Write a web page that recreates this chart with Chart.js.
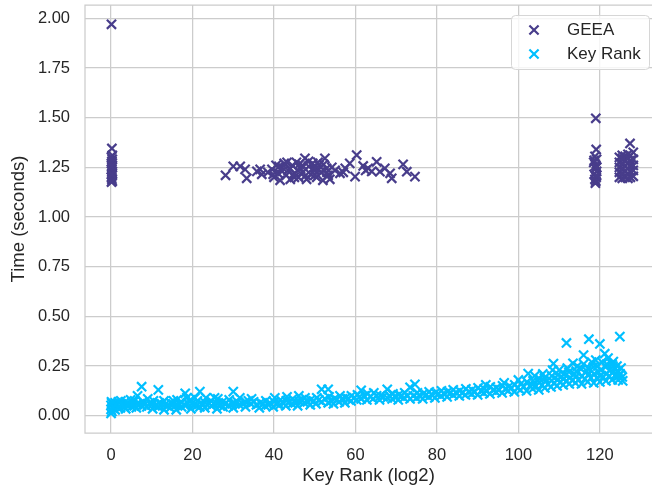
<!DOCTYPE html>
<html>
<head>
<meta charset="utf-8">
<script src="https://cdn.jsdelivr.net/npm/chart.js@4.4.1/dist/chart.umd.min.js"></script>
<style>
  html, body { margin: 0; padding: 0; background: #fff; }
  #wrap { width: 652px; height: 488px; }
</style>
</head>
<body>
<div id="wrap"><canvas id="chart" width="652" height="488"></canvas></div>
<script>
// [key rank (log2), time (s)]
const geeaSamples = [
  [0.1, 1.97], [0.2, 1.345], [0.3, 1.31], [0.1, 1.30], [0.3, 1.29], [0.2, 1.28], [0.1, 1.27],
  [0.3, 1.26], [0.2, 1.25], [0.1, 1.24], [0.3, 1.23], [0.2, 1.22], [0.3, 1.21], [0.1, 1.20],
  [0.2, 1.19], [0.3, 1.18], [0.1, 1.176], [0.2, 1.255], [0.2, 1.215],
  [28.1, 1.21], [30, 1.255], [31.7, 1.255], [32.9, 1.24], [33.3, 1.195], [35.8, 1.23],
  [36.6, 1.24], [37, 1.215], [38.5, 1.225],
  [39.5, 1.24], [40, 1.2], [40.5, 1.26], [41, 1.22], [41.5, 1.185], [42, 1.25], [42.5, 1.27],
  [43, 1.21], [43.5, 1.235], [44, 1.19], [44.5, 1.26], [45, 1.22], [45.5, 1.275], [46, 1.2],
  [46.5, 1.245], [47, 1.225], [47.6, 1.295], [48, 1.19], [48.5, 1.255], [49, 1.215],
  [49.5, 1.27], [50, 1.235], [50.5, 1.2], [51, 1.26], [51.5, 1.225], [52, 1.185],
  [52.5, 1.295], [52.9, 1.245], [53.3, 1.21], [53.7, 1.19], [44, 1.245], [47, 1.26],
  [50, 1.21], [42, 1.23], [45, 1.2], [48.5, 1.28], [51, 1.24],
  [41.2, 1.255], [43.2, 1.275], [45.8, 1.235], [47.8, 1.21], [49.8, 1.25], [52.2, 1.265],
  [54.2, 1.25], [39.8, 1.215], [46.2, 1.265], [50.8, 1.275], [53, 1.225], [44.7, 1.21],
  [55, 1.235], [56.2, 1.22], [57, 1.225], [57.5, 1.245], [58.6, 1.27], [59.9, 1.203], [60.3, 1.312],
  [61.9, 1.257], [62.5, 1.235], [63.1, 1.245], [64, 1.23], [65.2, 1.278], [66, 1.228], [67.2, 1.245],
  [68.5, 1.22], [68.9, 1.195], [71.7, 1.265], [72.6, 1.228], [74.6, 1.203],
  [119, 1.497], [119.1, 1.34], [118.8, 1.305], [119.2, 1.29], [118.5, 1.275], [119, 1.26],
  [118.9, 1.245], [119.2, 1.23], [118.6, 1.215], [119.1, 1.2], [118.8, 1.19], [119, 1.18],
  [118.9, 1.17], [119.2, 1.25], [118.6, 1.285], [119.2, 1.21],
  [124.8, 1.2], [124.8, 1.225], [124.8, 1.25], [124.8, 1.275], [124.8, 1.3],
  [125.5, 1.195], [125.5, 1.22], [125.5, 1.245], [125.5, 1.27], [125.5, 1.295], [125.5, 1.31],
  [126.2, 1.2], [126.2, 1.23], [126.2, 1.255], [126.2, 1.28], [126.2, 1.305],
  [126.9, 1.195], [126.9, 1.22], [126.9, 1.245], [126.9, 1.27], [126.9, 1.295], [126.9, 1.315],
  [127.5, 1.2], [127.5, 1.23], [127.5, 1.26], [127.5, 1.285], [127.5, 1.31], [127.4, 1.37],
  [128.2, 1.205], [128.2, 1.235], [128.2, 1.26], [128.2, 1.29], [128.2, 1.325]
];

const keyRankSamples = [
  [0, 0.012], [0.2, 0.022], [0, 0.032], [0.3, 0.042], [0, 0.052], [0.2, 0.062], [0.1, 0.07],
  [1, 0.03], [1.2, 0.05], [1, 0.065], [2.3, 0.04], [2.5, 0.06], [2.4, 0.075],
  [3.6, 0.035], [3.8, 0.055], [3.5, 0.07], [5, 0.045], [5.1, 0.065], [4.8, 0.08],
  [6.2, 0.04], [6.4, 0.06], [6.5, 0.1], [7.5, 0.05], [7.5, 0.146], [7.8, 0.07],
  [8.8, 0.045], [9, 0.085], [10.2, 0.035], [10, 0.055], [10.4, 0.075],
  [11.6, 0.045], [11.6, 0.13], [11.8, 0.065], [13, 0.03], [13.2, 0.055], [13, 0.075],
  [14.5, 0.04], [14.6, 0.065], [16, 0.03], [16, 0.055], [16.2, 0.08],
  [17.3, 0.045], [17.2, 0.07], [18.2, 0.05], [18.2, 0.113], [18.6, 0.09],
  [19.6, 0.035], [19.8, 0.06], [19.5, 0.08], [21, 0.05], [21.2, 0.075],
  [21.8, 0.045], [21.8, 0.121], [23, 0.04], [23.1, 0.065], [23.3, 0.09],
  [24.6, 0.05], [24.5, 0.075], [26, 0.035], [26, 0.06], [26.2, 0.085],
  [27.5, 0.045], [27.4, 0.07], [28.8, 0.05], [29, 0.08], [30, 0.04], [30, 0.121], [30.3, 0.065],
  [31.5, 0.055], [31.6, 0.09], [33, 0.045], [33, 0.07], [34.3, 0.06], [34.5, 0.085], [35, 0.07],
  [36.4, 0.04], [36.6, 0.065], [37.8, 0.05], [38, 0.075], [38.6, 0.054],
  [39.8, 0.045], [40, 0.07], [40.2, 0.09], [41.4, 0.055], [41.6, 0.08],
  [42.9, 0.05], [43, 0.075], [43.2, 0.095], [44.4, 0.06], [44.6, 0.085],
  [45.8, 0.05], [46, 0.075], [46.1, 0.1], [47.4, 0.065], [47.6, 0.09],
  [48.9, 0.055], [49, 0.08], [50.3, 0.06], [50.5, 0.09], [51.7, 0.07], [51.7, 0.133],
  [53.3, 0.065], [53.3, 0.133], [53.5, 0.095], [54.6, 0.06], [54.8, 0.085],
  [56, 0.07], [56.2, 0.1], [57.4, 0.065], [57.6, 0.09], [58.9, 0.075], [59, 0.1],
  [60.3, 0.08], [60.5, 0.105], [61.4, 0.085], [61.4, 0.128], [62.8, 0.08], [63, 0.11],
  [64.3, 0.085], [64.5, 0.115], [65.9, 0.08], [66.1, 0.1], [67.8, 0.09], [67.8, 0.133],
  [69, 0.085], [69.2, 0.11], [70.5, 0.08], [70.6, 0.105], [71.9, 0.09], [72.1, 0.115],
  [73.4, 0.085], [73.4, 0.143], [75, 0.09], [74.6, 0.158], [75.2, 0.115],
  [76.5, 0.085], [76.6, 0.11], [78, 0.095], [78.1, 0.12], [79.5, 0.09], [79.6, 0.115],
  [81, 0.1], [81.1, 0.125], [82.5, 0.095], [82.6, 0.12], [84, 0.105], [84, 0.13],
  [85.5, 0.1], [85.6, 0.125], [87, 0.105], [87.1, 0.135], [88.5, 0.11], [88.6, 0.13],
  [90, 0.105], [90.1, 0.14], [91.5, 0.115], [91.6, 0.135], [93, 0.11], [93.1, 0.145],
  [94.5, 0.12], [94.6, 0.14], [96, 0.115], [96.1, 0.15], [97.5, 0.125], [97.6, 0.145],
  [99, 0.12], [99.1, 0.155], [100.5, 0.13], [100.6, 0.16], [102, 0.125], [102.1, 0.17],
  [102.4, 0.212], [103.5, 0.135], [103.6, 0.175], [103.4, 0.155],
  [105, 0.13], [105.1, 0.165], [105.2, 0.185], [106.5, 0.14], [106.6, 0.17], [106.4, 0.19],
  [108, 0.145], [108.1, 0.175], [108.2, 0.2], [108.4, 0.23], [108.6, 0.262],
  [109.5, 0.15], [109.6, 0.18], [109.7, 0.205], [111, 0.155], [111.1, 0.185], [111.2, 0.21],
  [111.8, 0.366], [112.5, 0.16], [112.6, 0.19], [112.4, 0.22], [113.4, 0.264],
  [114, 0.165], [114.1, 0.195], [114.2, 0.225], [115.5, 0.16], [115.6, 0.2], [115.4, 0.235],
  [116, 0.305], [117, 0.17], [117.1, 0.205], [117.2, 0.24], [117.3, 0.385],
  [118.5, 0.165], [118.6, 0.21], [118.4, 0.245], [120, 0.17], [120.1, 0.2], [120.2, 0.23],
  [120, 0.361], [121.2, 0.312], [121.5, 0.175], [121.6, 0.21], [121.4, 0.245], [121.7, 0.26],
  [123, 0.18], [123.1, 0.215], [123.2, 0.25], [123.3, 0.272], [123.7, 0.238],
  [124.5, 0.18], [124.6, 0.2], [124.4, 0.225], [124.9, 0.398], [125.6, 0.175], [125.5, 0.195],
  [0.5, 0.045], [1.7, 0.04], [1.8, 0.07], [3, 0.05], [4.3, 0.06], [5.7, 0.05], [5.8, 0.075],
  [7, 0.06], [8.2, 0.055], [9.5, 0.065], [10.8, 0.05], [12.4, 0.06], [13.8, 0.05], [15.2, 0.06],
  [15.3, 0.075], [16.7, 0.06], [18.8, 0.065], [20.4, 0.055], [20.6, 0.09], [22.4, 0.06],
  [24, 0.065], [25.3, 0.06], [25.4, 0.09], [26.8, 0.05], [28.2, 0.065], [29.7, 0.06], [31, 0.07],
  [32.3, 0.06], [33.7, 0.075], [35.7, 0.055], [37.2, 0.06], [39, 0.065], [40.8, 0.06],
  [42.2, 0.065], [43.7, 0.07], [45.2, 0.065], [46.8, 0.08], [48.2, 0.07], [49.7, 0.075],
  [51, 0.08], [52.5, 0.085], [54, 0.075], [55.4, 0.08], [56.8, 0.085], [58.2, 0.085],
  [59.7, 0.09], [61, 0.095], [62.2, 0.1], [63.7, 0.095], [65.2, 0.1], [66.8, 0.095],
  [68.4, 0.1], [69.8, 0.095], [71.2, 0.1], [72.8, 0.1], [74.2, 0.1], [75.8, 0.1],
  [77.3, 0.105], [78.8, 0.105], [80.3, 0.11], [81.8, 0.11], [83.3, 0.115], [84.8, 0.115],
  [86.3, 0.115], [87.8, 0.12], [89.3, 0.12], [90.8, 0.125], [92.3, 0.125], [93.8, 0.13],
  [95.3, 0.13], [96.8, 0.135], [98.3, 0.14], [99.8, 0.14], [101.3, 0.145], [102.8, 0.15],
  [104.3, 0.15], [105.8, 0.155], [107.3, 0.16], [108.8, 0.165], [110.3, 0.17], [111.8, 0.175],
  [113.3, 0.18], [114.8, 0.18], [116.3, 0.185], [117.8, 0.19], [119.3, 0.19], [120.8, 0.195],
  [122.3, 0.2], [123.8, 0.205], [125, 0.21], [119.5, 0.25], [122.5, 0.23], [116.8, 0.225],
  [113.8, 0.21], [110.5, 0.195],
  [92, 0.155], [96.5, 0.165], [100, 0.18], [104, 0.2], [106, 0.21], [110, 0.23], [112, 0.24],
  [114.5, 0.25], [116, 0.26], [118, 0.27], [119, 0.28], [120.5, 0.27], [122, 0.29],
  [123, 0.26], [124.2, 0.25], [125.2, 0.24]
];

const seriesNames = ['GEEA', 'Key Rank'];
const seriesColors = ['#483d8b', '#00bfff'];
const xTicks = [0, 20, 40, 60, 80, 100, 120];
const yTicks = [0, 0.25, 0.5, 0.75, 1, 1.25, 1.5, 1.75, 2];

const GRID = '#cccccc';
const TEXT = '#262626';
const FONT = '"Liberation Sans", Arial, sans-serif';

Chart.defaults.font.family = FONT;
Chart.defaults.color = TEXT;

const toPoints = rows => rows.map(r => ({ x: r[0], y: r[1] }));

// spines (top/left/bottom; the right one falls outside the picture)
const frame = {
  id: 'frame',
  beforeDatasetsDraw(chart) {
    const { ctx, chartArea: a } = chart;
    ctx.save();
    ctx.strokeStyle = GRID;
    ctx.lineWidth = 1.25;
    ctx.beginPath();
    ctx.moveTo(a.right, a.top);
    ctx.lineTo(a.left, a.top);
    ctx.lineTo(a.left, a.bottom);
    ctx.lineTo(a.right, a.bottom);
    ctx.stroke();
    ctx.restore();
  }
};

// matplotlib-style legend box inside the axes, upper right
const innerLegend = {
  id: 'innerLegend',
  afterDraw(chart) {
    const { ctx, chartArea: a } = chart;
    const w = 138, h = 54;
    const x0 = 649 - w, y0 = a.top + 10;
    ctx.save();
    ctx.beginPath();
    ctx.roundRect(x0 + 0.5, y0 + 0.5, w, h, 4);
    ctx.fillStyle = 'rgba(255,255,255,0.8)';
    ctx.fill();
    ctx.strokeStyle = '#d6d6d6';
    ctx.lineWidth = 1;
    ctx.stroke();
    chart.data.datasets.forEach((ds, i) => {
      const cy = y0 + 15 + i * 24;
      ctx.strokeStyle = ds.borderColor;
      ctx.fillStyle = ds.borderColor;
      ctx.lineWidth = 2.2;
      Chart.helpers.drawPoint(ctx, {
        pointStyle: 'crossRot', radius: 6.5, borderWidth: 2.2, rotation: 0
      }, x0 + 23, cy);
      ctx.fillStyle = TEXT;
      ctx.font = '17px ' + FONT;
      ctx.textBaseline = 'middle';
      ctx.fillText(ds.label, x0 + 56, cy);
    });
    ctx.restore();
  }
};

const ctx = document.getElementById('chart').getContext('2d');
new Chart(ctx, {
  type: 'scatter',
  data: {
    datasets: [geeaSamples, keyRankSamples].map((rows, i) => ({
      label: seriesNames[i],
      data: toPoints(rows),
      pointStyle: 'crossRot',
      pointRadius: 6.5,
      pointBorderWidth: 2.2,
      borderColor: seriesColors[i],
      backgroundColor: seriesColors[i]
    }))
  },
  options: {
    responsive: false,
    animation: false,
    events: [],
    layout: { autoPadding: false, padding: { left: 0, top: 5, right: 0, bottom: 0 } },
    plugins: { legend: { display: false }, tooltip: { enabled: false } },
    scales: {
      x: {
        type: 'linear',
        min: -6.4,
        max: 132.8,
        afterBuildTicks: s => { s.ticks = xTicks.map(v => ({ value: v })); },
        afterFit: s => { s.height = 55; s.paddingLeft = 0; s.paddingRight = 0; },
        grid: { color: GRID, lineWidth: 1.25, drawTicks: false },
        border: { display: false },
        ticks: { padding: 13, font: { size: 16.5 }, color: TEXT },
        title: { display: true, text: 'Key Rank (log2)', font: { size: 18.5 }, color: TEXT, padding: { top: 0, bottom: 1 } }
      },
      y: {
        type: 'linear',
        min: -0.087,
        max: 2.067,
        afterBuildTicks: s => { s.ticks = yTicks.map(v => ({ value: v })); },
        afterFit: s => { s.width = 85; s.paddingTop = 0; s.paddingBottom = 0; },
        grid: { color: GRID, lineWidth: 1.25, drawTicks: false },
        border: { display: false },
        ticks: { padding: 15, font: { size: 16.5 }, color: TEXT, callback: v => v.toFixed(2) },
        title: { display: true, text: 'Time (seconds)', font: { size: 18.5 }, color: TEXT, padding: { top: 8, bottom: 0 } }
      }
    }
  },
  plugins: [frame, innerLegend]
});
</script>
</body>
</html>
